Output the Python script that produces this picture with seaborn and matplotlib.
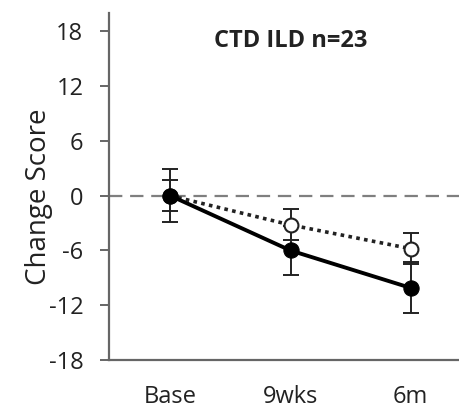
import numpy as np
import pandas as pd
import matplotlib
matplotlib.use("Agg")
import matplotlib.pyplot as plt
import seaborn as sns

# data
timepoints = ["Base", "9wks", "6m"]
solid_mean = [0.0, -6.0, -10.1]
solid_err = [2.9, 2.7, 2.8]
open_mean = [0.0, -3.2, -5.8]
open_err = [1.7, 1.7, 1.7]
y_ticks = [-18, -12, -6, 0, 6, 12, 18]
title = "CTD ILD n=23"

sns.set_theme(style="ticks")
plt.rcParams["font.family"] = ["Open Sans", "DejaVu Sans"]

df = pd.DataFrame({
    "x": list(range(len(timepoints))) * 2,
    "score": solid_mean + open_mean,
    "err": solid_err + open_err,
    "group": ["solid"] * 3 + ["open"] * 3,
})
solid = df[df["group"] == "solid"]
opn = df[df["group"] == "open"]

fig = plt.figure(figsize=(4.6, 4.11), dpi=100)
ax = fig.add_axes([0.237, 0.124, 0.763, 0.844])

ax.axhline(0, color="#7f7f7f", lw=1.6, ls=(0, (6, 3.5)), zorder=1)

# solid series error bars (behind open markers)
ax.errorbar(solid["x"], solid["score"], yerr=solid["err"], fmt="none",
            ecolor="#222222", elinewidth=1.4, capsize=6, capthick=1.4, zorder=2)

# open series
sns.lineplot(data=opn, x="x", y="score", ax=ax, color="#222222", lw=2.6,
             linestyle=(0, (1, 1.2)), marker="o", markersize=10,
             markerfacecolor="white", markeredgecolor="#222222",
             markeredgewidth=1.5, zorder=3)
ax.errorbar(opn["x"], opn["score"], yerr=opn["err"], fmt="none",
            ecolor="#222222", elinewidth=1.4, capsize=6, capthick=1.4, zorder=2.5)

# solid series
sns.lineplot(data=solid, x="x", y="score", ax=ax, color="black", lw=2.8,
             marker="o", markersize=11, markerfacecolor="black",
             markeredgecolor="black", zorder=4)

ax.set_xlim(-0.51, 2.41)
ax.set_ylim(-18, 20)
ax.set_yticks(y_ticks)
ax.set_yticklabels([str(t) for t in y_ticks], fontsize=17, color="#222222")
ax.set_xticks(range(len(timepoints)))
ax.set_xticklabels(timepoints, fontsize=17, color="#222222")
ax.tick_params(axis="x", length=0, pad=18)
ax.tick_params(axis="y", length=6.5, width=1.4, color="#666666", pad=12)

ax.set_xlabel("")
ax.set_ylabel("Change Score", fontsize=20, color="#222222")
ax.yaxis.set_label_coords(-0.16, 0.47)
ax.text(1.0, 17.0, title, ha="center", va="center", fontsize=17,
        fontweight="bold", color="#222222")

sns.despine(ax=ax)
for side in ["left", "bottom"]:
    ax.spines[side].set_color("#666666")
    ax.spines[side].set_linewidth(1.6)

fig.savefig("out.png", dpi=100)
